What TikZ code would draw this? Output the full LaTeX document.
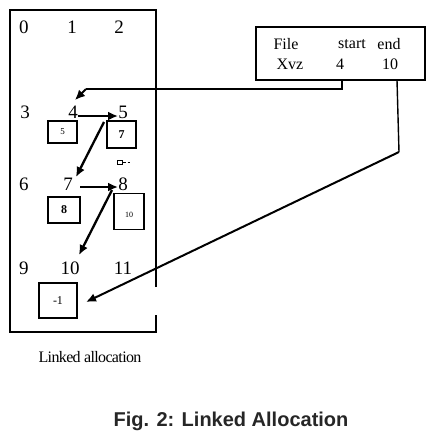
\documentclass[tikz,border=0pt]{standalone}
\usepackage{fontspec}
\setmainfont{Liberation Serif}
\newfontfamily\capfont{Liberation Sans}
\usetikzlibrary{arrows.meta}
\begin{document}
\begin{tikzpicture}[x=1pt,y=-1pt,
  num/.style={font=\fontsize{19}{19}\selectfont, inner sep=0pt},
  cell/.style={draw, line width=1.3pt, minimum width=#1, inner sep=0pt},
  tbl/.style={font=\fontsize{16}{16}\selectfont, inner sep=0pt},
  link/.style={line width=2.8pt, -{Latex[length=10pt,width=9pt]}},
  ptr/.style={line width=1.4pt},
  ptrarrow/.style={line width=2pt, -{Latex[length=10pt,width=9pt]}}]
\useasboundingbox (0,0) rectangle (439,437);
% main frame
\draw[line width=1.4pt] (156,287) -- (156,10) -- (10,10) -- (10,332) -- (156,332) -- (156,315);
% block numbers
\node[num] (n0) at (24,27) {0};
\node[num] (n1) at (72,27) {1};
\node[num] (n2) at (119,27) {2};
\node[num] (n3) at (25,112) {3};
\node[num] (n4) at (73,112) {4};
\node[num] (n5) at (123,112) {5};
\node[num] (n6) at (24,184) {6};
\node[num] (n7) at (68,184) {7};
\node[num] (n8) at (123,184) {8};
\node[num] (n9) at (24,268) {9};
\node[num] (n10) at (70,268) {10};
\node[num] (n11) at (123,268) {11};
% pointer cells
\node[cell=29pt, minimum height=22pt, font=\fontsize{9}{9}\selectfont] (c4) at (62.5,132) {5};
\node[cell=29pt, minimum height=27pt, font=\bfseries\fontsize{12}{12}\selectfont] (c5) at (121.5,134.5) {7};
\node[cell=32pt, minimum height=26pt, font=\bfseries\fontsize{12}{12}\selectfont] (c7) at (64,210) {8};
\node[cell=30pt, minimum height=36pt, font=\fontsize{8}{8}\selectfont, anchor=north, text depth=0pt] (c8) at (129,193) {\raisebox{-6pt}{10}};
\node[cell=38pt, minimum height=35pt, font=\fontsize{12}{12}\selectfont] (c10) at (58,300.5) {-1};
% small symbol
\draw[line width=1pt] (117,160.5) rectangle (122,164);
\draw[line width=1pt] (122,162.5) -- (126,162.5);
\draw[line width=1pt] (127.5,162.5) -- (129.5,162.5);
% link arrows
\coordinate (a45s) at (78,116);
\coordinate (a45e) at (118,116);
\draw[link] (a45s) -- (a45e);
\coordinate (a57s) at (104,122);
\coordinate (a57e) at (76,177);
\draw[link, line width=2.3pt] (a57s) -- (a57e);
\coordinate (a78s) at (80,187);
\coordinate (a78e) at (118,187);
\draw[link] (a78s) -- (a78e);
\coordinate (a810s) at (112,190);
\coordinate (a810e) at (79,255);
\draw[link, line width=2.3pt] (a810s) -- (a810e);
% directory table
\draw[line width=1.4pt] (256,27) rectangle (425,80);
\node[tbl] (tfile) at (286,44) {File};
\node[tbl] (tstart) at (352,44) {start};
\node[tbl] (tend) at (389,44) {end};
\node[tbl] (txvz) at (290,64) {Xvz};
\node[tbl] (t4) at (340,64) {4};
\node[tbl] (t10) at (390,64) {10};
\coordinate (sfoot) at (342,80);
\coordinate (sbend) at (342,89);
\coordinate (scorner) at (86,89);
\coordinate (stip) at (75,100);
\draw[ptr] (sfoot) -- (sbend) -- (scorner);
\draw[ptrarrow, line width=1.8pt] (scorner) -- (stip);
\coordinate (efoot) at (397,80);
\coordinate (ebend) at (399,152);
\coordinate (etip) at (86,302);
\draw[ptr] (efoot) -- (ebend);
\draw[ptrarrow] (ebend) -- (etip);
% captions
\node[font=\fontsize{16}{16}\selectfont, inner sep=0pt] (lbl) at (90,357) {\addfontfeature{LetterSpace=-4}Linked allocation};
\node[font=\capfont\bfseries\fontsize{20}{20}\selectfont, text=black!85, inner sep=0pt] (fig) at (231,421) {Fig. 2: Linked Allocation};
\end{tikzpicture}
\end{document}
